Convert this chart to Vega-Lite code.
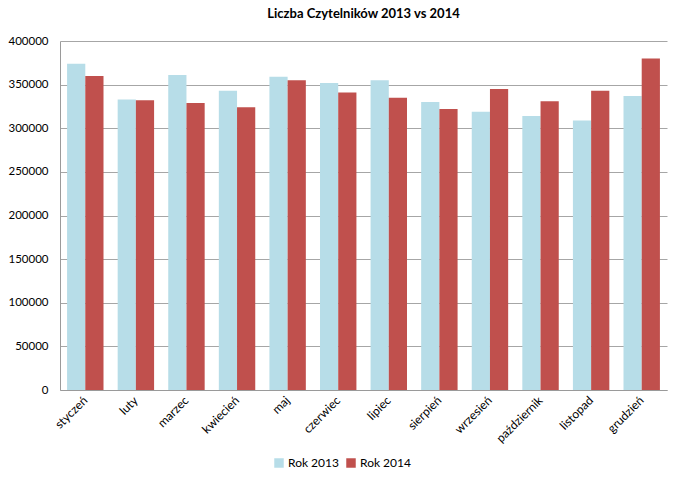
{
  "$schema": "https://vega.github.io/schema/vega-lite/v6.json",
  "width": 607,
  "height": 349,
  "padding": {"left": 7, "top": 8, "right": 9, "bottom": 5},
  "background": "white",
  "title": {"text": "Liczba Czytelników  2013 vs 2014", "font": "Lato", "fontSize": 13, "fontWeight": "bold", "color": "#000000", "offset": 14, "anchor": "middle"},
  "data": {"values": [
    {"month": "styczeń", "year": "Rok 2013", "value": 374000},
    {"month": "styczeń", "year": "Rok 2014", "value": 360000},
    {"month": "luty", "year": "Rok 2013", "value": 333000},
    {"month": "luty", "year": "Rok 2014", "value": 332000},
    {"month": "marzec", "year": "Rok 2013", "value": 361000},
    {"month": "marzec", "year": "Rok 2014", "value": 329000},
    {"month": "kwiecień", "year": "Rok 2013", "value": 343000},
    {"month": "kwiecień", "year": "Rok 2014", "value": 324000},
    {"month": "maj", "year": "Rok 2013", "value": 359000},
    {"month": "maj", "year": "Rok 2014", "value": 355000},
    {"month": "czerwiec", "year": "Rok 2013", "value": 352000},
    {"month": "czerwiec", "year": "Rok 2014", "value": 341000},
    {"month": "lipiec", "year": "Rok 2013", "value": 355000},
    {"month": "lipiec", "year": "Rok 2014", "value": 335000},
    {"month": "sierpień", "year": "Rok 2013", "value": 330000},
    {"month": "sierpień", "year": "Rok 2014", "value": 322000},
    {"month": "wrzesień", "year": "Rok 2013", "value": 319000},
    {"month": "wrzesień", "year": "Rok 2014", "value": 345000},
    {"month": "październik", "year": "Rok 2013", "value": 314000},
    {"month": "październik", "year": "Rok 2014", "value": 331000},
    {"month": "listopad", "year": "Rok 2013", "value": 309000},
    {"month": "listopad", "year": "Rok 2014", "value": 343000},
    {"month": "grudzień", "year": "Rok 2013", "value": 337000},
    {"month": "grudzień", "year": "Rok 2014", "value": 380000}
  ]},
  "mark": {"type": "bar"},
  "encoding": {
    "x": {
      "field": "month", "type": "nominal",
      "sort": ["styczeń","luty","marzec","kwiecień","maj","czerwiec","lipiec","sierpień","wrzesień","październik","listopad","grudzień"],
      "scale": {"paddingInner": 0.28, "paddingOuter": 0.14},
      "axis": {"title": null, "labelAngle": -45, "labelAlign": "right", "labelBaseline": "middle", "labelFont": "Lato", "labelFontSize": 12, "labelColor": "#000000", "ticks": false, "labelPadding": 8, "domainColor": "#9a9a9a", "grid": false}
    },
    "xOffset": {"field": "year", "type": "nominal"},
    "y": {
      "field": "value", "type": "quantitative",
      "scale": {"domain": [0, 400000], "nice": false},
      "axis": {"title": null, "values": [0,50000,100000,150000,200000,250000,300000,350000,400000], "format": "d", "labelFont": "Lato", "labelFontSize": 11.5, "labelColor": "#000000", "ticks": false, "labelPadding": 12, "domainColor": "#9a9a9a", "gridColor": "#a6a6a6", "gridWidth": 1}
    },
    "color": {
      "field": "year", "type": "nominal",
      "scale": {"domain": ["Rok 2013", "Rok 2014"], "range": ["#b7dde8", "#c0504d"]},
      "legend": {"title": null, "orient": "none", "legendX": 213, "legendY": 416, "direction": "horizontal", "symbolType": "square", "symbolSize": 90, "symbolOpacity": 1, "labelFont": "Lato", "labelFontSize": 12, "labelColor": "#000000", "labelOffset": 3, "columnPadding": 6}
    }
  },
  "config": {"view": {"stroke": null}}
}
